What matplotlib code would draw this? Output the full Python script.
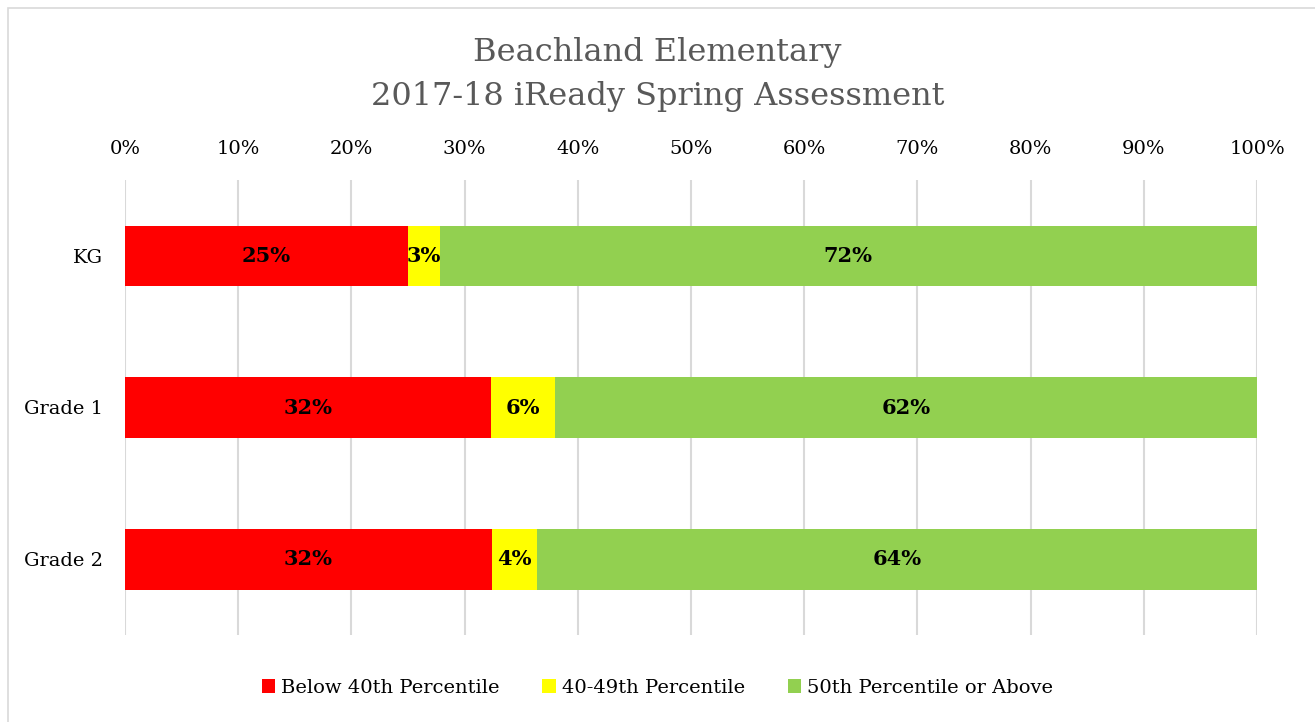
import matplotlib.pyplot as plt
from matplotlib.patches import Rectangle

# data
grades = ['KG', 'Grade 1', 'Grade 2']
below_40 = [0.250, 0.323, 0.324]
pct_40_49 = [0.028, 0.057, 0.040]
above_50 = [0.722, 0.620, 0.636]
series_names = ['Below 40th Percentile', '40-49th Percentile', '50th Percentile or Above']
colors = ['#ff0000', '#ffff00', '#92d050']

plt.rcParams['font.family'] = ['DejaVu Serif']

fig = plt.figure(figsize=(13.15, 7.22), dpi=100)
ax = fig.add_axes([125 / 1315, 1 - 635 / 722, 1132 / 1315, 455 / 722])

# outer chart border
fig.patches.append(Rectangle((8 / 1315, -0.01), 1.02, 1 - 8 / 722 + 0.01,
                             transform=fig.transFigure, fill=False,
                             edgecolor='#d9d9d9', linewidth=1.2))

y = range(len(grades))
left = [0.0] * len(grades)
for vals, name, col in zip([below_40, pct_40_49, above_50], series_names, colors):
    bars = ax.barh(y, vals, left=left, height=0.4, color=col, label=name)
    for b, v in zip(bars, vals):
        ax.text(b.get_x() + b.get_width() / 2, b.get_y() + b.get_height() / 2,
                f'{round(v * 100):.0f}%', ha='center', va='center',
                fontsize=15, fontweight='bold', color='black')
    left = [l + v for l, v in zip(left, vals)]

ax.set_xlim(0, 1)
ax.set_ylim(2.5, -0.5)
ax.set_xticks([i / 10 for i in range(11)])
ax.set_xticklabels([f'{i * 10}%' for i in range(11)])
ax.xaxis.tick_top()
ax.set_yticks(list(y))
ax.set_yticklabels(grades)
ax.tick_params(axis='both', length=0, labelsize=14, colors='#000000')
ax.tick_params(axis='x', pad=16)
ax.tick_params(axis='y', pad=16)
ax.grid(axis='x', color='#d9d9d9', linewidth=1.5)
ax.set_axisbelow(True)
for s in ax.spines.values():
    s.set_visible(False)

fig.text(0.5, 1 - 52 / 722, 'Beachland Elementary', ha='center', va='center',
         fontsize=23, color='#595959')
fig.text(0.5, 1 - 97 / 722, '2017-18 iReady Spring Assessment', ha='center', va='center',
         fontsize=23, color='#595959')

ax.legend(loc='center', bbox_to_anchor=(0.5, 1 - 688 / 722), bbox_transform=fig.transFigure,
          ncol=3, frameon=False, fontsize=14, handlelength=0.7, handleheight=0.7,
          handletextpad=0.3, columnspacing=2.2)

fig.savefig('out.png', dpi=100)
